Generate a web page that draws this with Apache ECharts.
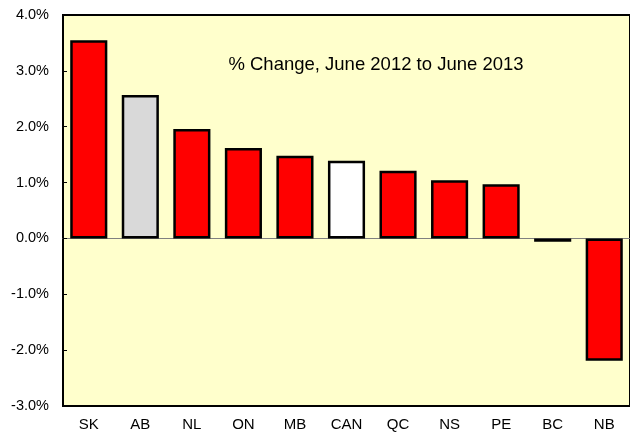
<!DOCTYPE html>
<html><head><meta charset="utf-8">
<script src="https://cdn.jsdelivr.net/npm/echarts@6/dist/echarts.min.js"></script>
<style>html,body{margin:0;padding:0;background:#fff}#c{width:630px;height:432px}</style>
</head><body><div id="c"></div>
<script>
var categories = ['SK','AB','NL','ON','MB','CAN','QC','NS','PE','BC','NB'];
var values = [3.55, 2.57, 1.96, 1.62, 1.48, 1.39, 1.21, 1.04, 0.97, -0.06, -2.19];
var barColors = ['#FF0000','#D9D9D9','#FF0000','#FF0000','#FF0000','#FFFFFF','#FF0000','#FF0000','#FF0000','#FF0000','#FF0000'];
var yMin = -3, yMax = 4, yStep = 1;
var titleText = '% Change, June 2012 to June 2013';

var chart = echarts.init(document.getElementById('c'), null, {renderer:'canvas'});
var font = 'Arial, "Liberation Sans", sans-serif';
chart.setOption({
  animation: false,
  backgroundColor: '#FFFFFF',
  grid: { left: 63, right: -5, top: 15, bottom: 26, show: true, backgroundColor: '#FFFFCC', borderColor: '#000', borderWidth: 2 },
  title: { text: titleText, left: 371, top: 50, textAlign: 'center',
    textStyle: { fontFamily: font, fontSize: 18.5, fontWeight: 'normal', color: '#000' } },
  xAxis: [
    { type: 'category', data: categories, position: 'bottom',
      axisLine: { show: true, onZero: true, lineStyle: { color: '#808080', width: 1 } },
      axisTick: { show: false }, axisLabel: { show: false } },
    { type: 'category', data: categories, position: 'bottom',
      axisLine: { show: true, onZero: false, lineStyle: { color: '#000', width: 2 } },
      axisTick: { show: false },
      axisLabel: { margin: 11, fontFamily: font, fontSize: 15, color: '#000' } }
  ],
  yAxis: { type: 'value', min: yMin, max: yMax, interval: yStep,
    axisLine: { show: true, lineStyle: { color: '#000', width: 2 } },
    axisTick: { show: true, inside: true, length: 4, lineStyle: { color: '#000', width: 1 } },
    splitLine: { show: false },
    axisLabel: { margin: 14, fontFamily: font, fontSize: 14.5, color: '#000',
      formatter: function (v) { return v.toFixed(1) + '%'; } } },
  series: [{
    type: 'bar', xAxisIndex: 0, barWidth: '72%',
    data: values.map(function (v, i) { return { value: v, itemStyle: { color: barColors[i] } }; }),
    itemStyle: { borderColor: '#000', borderWidth: 2.5 }
  }]
});
</script></body></html>
